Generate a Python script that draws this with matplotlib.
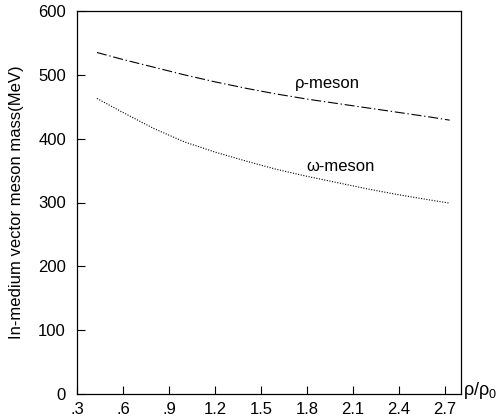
import matplotlib
matplotlib.use("Agg")
import matplotlib.pyplot as plt

density = [0.43, 0.6, 0.8, 1.0, 1.2, 1.4, 1.6, 1.8, 2.0, 2.2, 2.4, 2.6, 2.73]
rho_mass = [535, 524, 512, 500, 489, 479, 470, 462, 455, 448, 441, 434, 429]
omega_mass = [463, 441, 416, 395, 379, 365, 352, 341, 331, 321, 312, 304, 299]
xticks = [0.3, 0.6, 0.9, 1.2, 1.5, 1.8, 2.1, 2.4, 2.7]
xticklabels = [".3", ".6", ".9", "1.2", "1.5", "1.8", "2.1", "2.4", "2.7"]
yticks = [0, 100, 200, 300, 400, 500, 600]

plt.rcParams['font.family'] = ['Liberation Sans', 'DejaVu Sans']
plt.rcParams['mathtext.fontset'] = 'custom'
plt.rcParams['mathtext.rm'] = 'Liberation Sans'
plt.rcParams['mathtext.it'] = 'Liberation Sans'

fig = plt.figure(figsize=(5.02, 4.18), dpi=100)
ax = fig.add_axes([77/502, 1-394/418, (461-77)/502, (394-11)/418])

ax.plot(density, rho_mass, color='black', lw=0.8, linestyle=(0, (9, 2.5, 1.2, 2.5)))
ax.plot(density, omega_mass, color='black', lw=0.8, linestyle=(0, (1, 1.4)))

ax.set_xlim(0.3, 2.804)
ax.set_ylim(0, 600)
ax.set_xticks(xticks)
ax.set_xticklabels(xticklabels)
ax.set_yticks(yticks)
ax.tick_params(direction='in', length=6, width=0.8, labelsize=12, colors='black')
ax.tick_params(axis='y', pad=8)
ax.tick_params(axis='x', pad=6)
for s in ax.spines.values():
    s.set_linewidth(0.9)

ax.text(1.93, 487, "ρ-meson", fontsize=12, ha='center', va='center')
ax.text(2.02, 356, "ω-meson", fontsize=12, ha='center', va='center')
ax.text(1.005, 0.01, "ρ/ρ$_0$", transform=ax.transAxes, fontsize=13, ha='left', va='center')
ax.set_ylabel("In-medium vector meson mass(MeV)", fontsize=12, labelpad=10)

fig.savefig("out.png", dpi=100)
